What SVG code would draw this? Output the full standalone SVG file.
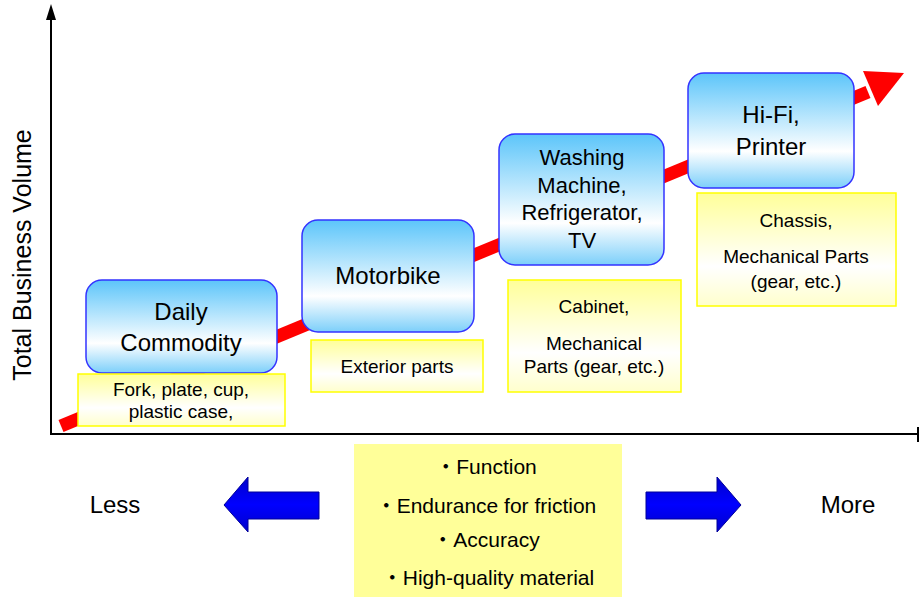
<svg xmlns="http://www.w3.org/2000/svg" width="919" height="597" viewBox="0 0 919 597">
<defs>
<linearGradient id="gBlue" x1="0" y1="0" x2="0" y2="1">
<stop offset="0" stop-color="#5cc5fa"/>
<stop offset="0.68" stop-color="#ffffff"/>
<stop offset="1" stop-color="#7ccffa"/>
</linearGradient>
<linearGradient id="gYel" x1="0" y1="0" x2="0" y2="1">
<stop offset="0" stop-color="#ffff99"/>
<stop offset="0.65" stop-color="#ffffff"/>
<stop offset="1" stop-color="#ffffcc"/>
</linearGradient>
<linearGradient id="gArr" x1="0" y1="0" x2="0" y2="1">
<stop offset="0" stop-color="#0000cc"/>
<stop offset="0.5" stop-color="#0000ff"/>
<stop offset="1" stop-color="#0000cc"/>
</linearGradient>
</defs>
<style>
text{font-family:"Liberation Sans",Arial,"Noto Sans CJK JP",sans-serif;fill:#000;text-anchor:middle}
.bx{fill:url(#gBlue);stroke:#3333ff;stroke-width:1.5}
.yb{fill:url(#gYel);stroke:#ffff00;stroke-width:1.5}
.big{font-size:24px}
.yl{font-size:25px}
.mid{font-size:22px}
.sm{font-size:19px}
.bt{font-size:21px}
.ax{stroke:#000;stroke-width:2;fill:none}
.barr{fill:url(#gArr);stroke:#000099;stroke-width:1}
</style>
<rect width="919" height="597" fill="#fff"/>

<g id="connectors">
<line class="ax" x1="51" y1="434" x2="51" y2="16"/>
<polygon points="51,4 46,20 56,20" fill="#000"/>
<line class="ax" x1="50" y1="434" x2="918" y2="434"/>
<line x1="918" y1="427" x2="918" y2="442" stroke="#000" stroke-width="2"/>
<line x1="61" y1="426" x2="868" y2="92" stroke="#ff0000" stroke-width="13"/>
<polygon points="904,73 863,71 878,106" fill="#ff0000"/>
</g>

<g id="ylabel">
<text class="yl" transform="translate(31,255) rotate(-90)">Total Business Volume</text>
</g>

<g id="node-daily">
<rect class="bx" x="86" y="280" width="191" height="93" rx="16"/>
<text class="big" x="181" y="320">Daily</text>
<text class="big" x="181" y="351">Commodity</text>
</g>
<g id="part-daily">
<rect class="yb" x="78" y="374" width="207" height="52"/>
<text class="sm" x="181" y="396">Fork, plate, cup,</text>
<text class="sm" x="181" y="418">plastic case,</text>
</g>

<g id="node-motorbike">
<rect class="bx" x="302" y="220" width="172" height="112" rx="16"/>
<text class="big" x="388" y="284">Motorbike</text>
</g>
<g id="part-motorbike">
<rect class="yb" x="311" y="340" width="172" height="52"/>
<text class="sm" x="397" y="373">Exterior parts</text>
</g>

<g id="node-washing">
<rect class="bx" x="499" y="134" width="165" height="131" rx="16"/>
<text class="mid" x="582" y="165">Washing</text>
<text class="mid" x="582" y="193">Machine,</text>
<text class="mid" x="582" y="220">Refrigerator,</text>
<text class="mid" x="582" y="248">TV</text>
</g>
<g id="part-washing">
<rect class="yb" x="508" y="280" width="173" height="112"/>
<text class="sm" x="594" y="313">Cabinet,</text>
<text class="sm" x="594" y="350">Mechanical</text>
<text class="sm" x="594" y="373">Parts (gear, etc.)</text>
</g>

<g id="node-hifi">
<rect class="bx" x="688" y="73" width="166" height="115" rx="16"/>
<text class="big" x="771" y="123">Hi-Fi,</text>
<text class="big" x="771" y="155">Printer</text>
</g>
<g id="part-hifi">
<rect class="yb" x="697" y="193" width="199" height="113"/>
<text class="sm" x="796" y="227">Chassis,</text>
<text class="sm" x="796" y="263">Mechanical Parts</text>
<text class="sm" x="796" y="288">(gear, etc.)</text>
</g>

<g id="factors">
<rect x="354" y="444" width="268" height="160" fill="#ffff99"/>
<text class="bt" x="486" y="474">・Function</text>
<text class="bt" x="486" y="513">・Endurance for friction</text>
<text class="bt" x="486" y="547">・Accuracy</text>
<text class="bt" x="488" y="585">・High-quality material</text>
</g>

<g id="less">
<polygon class="barr" points="224,505 248,477 248,492 319,492 319,519 248,519 248,532"/>
<text class="big" x="115" y="513">Less</text>
</g>
<g id="more">
<polygon class="barr" points="741,505 717,477 717,492 646,492 646,519 717,519 717,532"/>
<text class="big" x="848" y="513">More</text>
</g>
</svg>
